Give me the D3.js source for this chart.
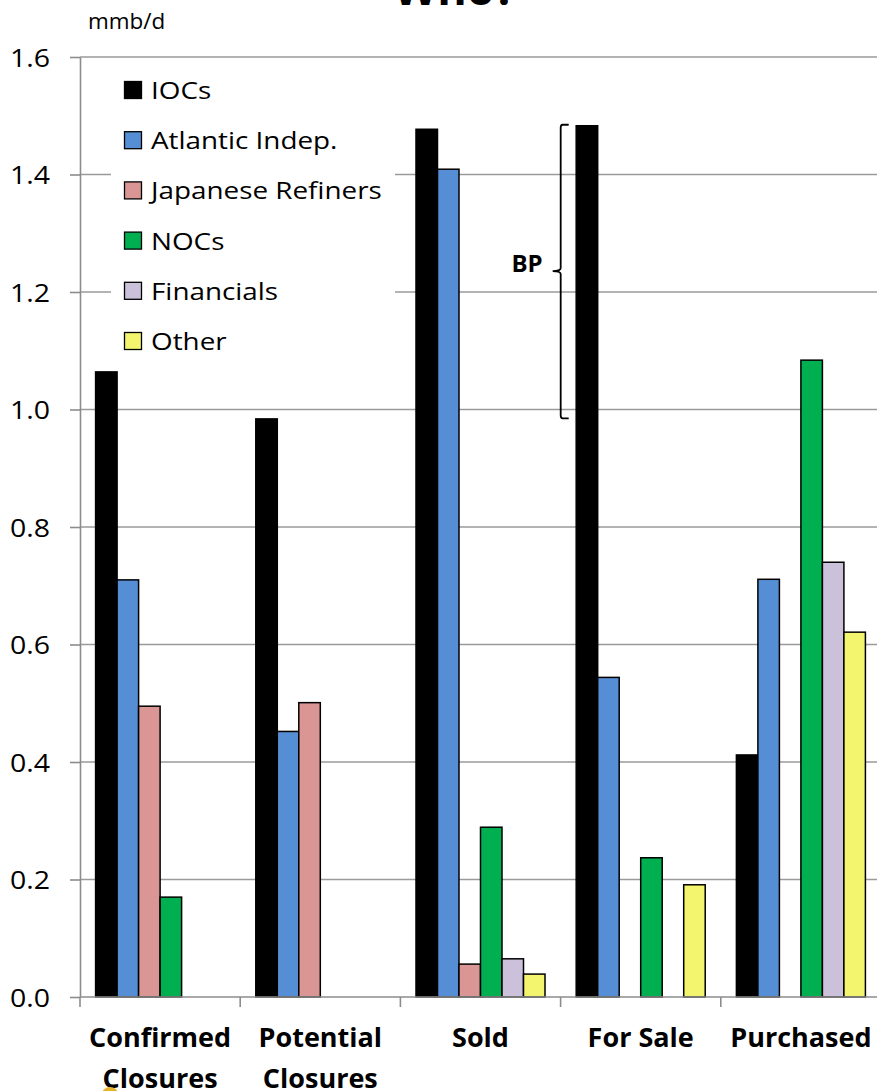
<!DOCTYPE html>
<html>
<head>
<meta charset="utf-8">
<script src="https://cdn.jsdelivr.net/npm/d3@7"></script>
<style>
  html, body { margin: 0; padding: 0; background: #fff; }
  svg { display: block; font-family: "Open Sans", "Noto Sans", sans-serif; }
</style>
</head>
<body>
<svg id="chart" width="877" height="1091"></svg>
<script>
// Refinery ownership changes, million barrels per day
const categories = ["Confirmed Closures", "Potential Closures", "Sold", "For Sale", "Purchased"];
const seriesNames = ["IOCs", "Atlantic Indep.", "Japanese Refiners", "NOCs", "Financials", "Other"];
const seriesColors = ["#000000", "#558ed5", "#d99694", "#00b050", "#ccc1da", "#f3f56f"];

const iocs       = [1.064, 0.984, 1.477, 1.483, 0.412];
const atlantic   = [0.710, 0.452, 1.409, 0.544, 0.711];
const japanese   = [0.495, 0.501, 0.056, 0,     0];
const nocs       = [0.170, 0,     0.289, 0.237, 1.084];
const financials = [0,     0,     0.065, 0,     0.740];
const other      = [0,     0,     0.039, 0.191, 0.621];
const seriesValues = [iocs, atlantic, japanese, nocs, financials, other];

const yTicks = [0, 0.2, 0.4, 0.6, 0.8, 1.0, 1.2, 1.4, 1.6];
// BP share of the "For Sale" IOC volume
const bpRange = [0.985, 1.483];

const svg = d3.select("#chart");
const FONT = "'Open Sans', sans-serif";

const x0 = d3.scaleBand().domain(categories).range([80, 881]).paddingInner(0).paddingOuter(0);
const x1 = d3.scaleBand().domain(seriesNames).range([0, x0.bandwidth()]).paddingInner(0).paddingOuter(0.725);
const y = d3.scaleLinear().domain([0, 1.6]).range([997, 57]);

// gridlines
svg.append("g")
  .selectAll("line")
  .data(yTicks.filter(d => d > 0))
  .join("line")
  .attr("x1", 80).attr("x2", 877)
  .attr("y1", d => y(d)).attr("y2", d => y(d))
  .attr("stroke", "#9a9a9a").attr("stroke-width", 1.6);

// y axis
const yAxis = svg.append("g")
  .attr("transform", "translate(80,0)")
  .call(d3.axisLeft(y).tickValues(yTicks).tickFormat(d3.format(".1f")).tickSize(10).tickSizeOuter(0));
yAxis.select(".domain").attr("stroke", "#8c8c8c").attr("stroke-width", 1.6);
yAxis.selectAll(".tick line").attr("stroke", "#8c8c8c").attr("stroke-width", 1.6);
yAxis.selectAll(".tick text")
  .attr("x", 0)
  .attr("dy", "0.36em")
  .attr("transform", "translate(-30,0) scale(1.14,1)")
  .attr("font-size", 25)
  .attr("font-family", FONT)
  .attr("fill", "#000");

// legend background (covers the gridlines behind it)
const legend = svg.append("g");
legend.append("rect")
  .attr("x", 111).attr("y", 66).attr("width", 284).attr("height", 292)
  .attr("fill", "#fff");

// bars
const groups = svg.append("g")
  .selectAll("g")
  .data(categories)
  .join("g")
  .attr("transform", d => `translate(${x0(d)},0)`);

groups.selectAll("rect")
  .data((c, ci) => seriesNames.map((s, si) => ({ s, si, v: seriesValues[si][ci] })).filter(d => d.v > 0))
  .join("rect")
  .attr("x", d => x1(d.s))
  .attr("width", x1.bandwidth())
  .attr("y", d => y(d.v))
  .attr("height", d => y(0) - y(d.v))
  .attr("fill", d => seriesColors[d.si])
  .attr("stroke", "#000")
  .attr("stroke-width", 1.5);

// x axis
const xAxisG = svg.append("g");
xAxisG.append("line")
  .attr("x1", 80).attr("x2", 881).attr("y1", y(0)).attr("y2", y(0))
  .attr("stroke", "#8c8c8c").attr("stroke-width", 1.6);
xAxisG.selectAll("line.tk")
  .data(categories.map(c => x0(c)).concat([x0.range()[1]]))
  .join("line")
  .attr("class", "tk")
  .attr("x1", d => d).attr("x2", d => d)
  .attr("y1", y(0)).attr("y2", y(0) + 10)
  .attr("stroke", "#8c8c8c").attr("stroke-width", 1.6);

const catText = svg.append("g")
  .selectAll("text")
  .data(categories)
  .join("text")
  .attr("text-anchor", "middle")
  .attr("font-weight", "bold")
  .attr("font-size", 27)
  .attr("font-family", FONT)
  .attr("fill", "#000");
catText.each(function (d) {
  const words = d.split(" ");
  const lines = words.length > 1 && d !== "For Sale" ? words : [d];
  const cx = x0(d) + x0.bandwidth() / 2;
  d3.select(this).selectAll("tspan")
    .data(lines)
    .join("tspan")
    .attr("x", cx)
    .attr("y", (l, i) => 1047 + i * 41)
    .text(l => l);
});

// legend entries
const legendItems = legend.selectAll("g.item")
  .data(seriesNames)
  .join("g")
  .attr("class", "item")
  .attr("transform", (d, i) => `translate(124,${90 + i * 50.2})`);
legendItems.append("rect")
  .attr("x", 0.5).attr("y", -8.5).attr("width", 17).attr("height", 17)
  .attr("fill", (d, i) => seriesColors[i])
  .attr("stroke", "#000").attr("stroke-width", 1.3);
legendItems.append("text")
  .attr("transform", "translate(27,9) scale(1.16,1)")
  .attr("font-size", 24)
  .attr("font-family", FONT)
  .attr("fill", "#000")
  .text(d => d);

// BP bracket beside the For Sale IOC bar
const bx = x0("For Sale") + x1("IOCs") - 15.5;
const yTop = y(bpRange[1]) - 1;
const yBot = y(bpRange[0]);
const yMid = (yTop + yBot) / 2 - 0.5;
const brace = d3.path();
brace.moveTo(bx + 8, yTop);
brace.lineTo(bx + 2, yTop);
brace.quadraticCurveTo(bx, yTop, bx, yTop + 3);
brace.lineTo(bx, yMid - 3);
brace.quadraticCurveTo(bx, yMid, bx - 8, yMid);
brace.quadraticCurveTo(bx, yMid, bx, yMid + 3);
brace.lineTo(bx, yBot - 3);
brace.quadraticCurveTo(bx, yBot, bx + 2, yBot);
brace.lineTo(bx + 8, yBot);
svg.append("path")
  .attr("d", brace.toString())
  .attr("fill", "none")
  .attr("stroke", "#000")
  .attr("stroke-width", 1.8);
svg.append("text")
  .attr("x", bx - 18).attr("y", yMid + 1)
  .attr("text-anchor", "end")
  .attr("font-weight", "bold")
  .attr("font-size", 24)
  .attr("font-family", FONT)
  .text("BP");

// unit label
svg.append("text")
  .attr("transform", "translate(88,29) scale(1.07,1)")
  .attr("font-size", 21)
  .attr("font-family", FONT)
  .text("mmb/d");

// title (runs off the top edge)
svg.append("text")
  .attr("x", 455).attr("y", 5)
  .attr("text-anchor", "middle")
  .attr("font-weight", "bold")
  .attr("font-size", 45)
  .attr("font-family", FONT)
  .text("Who?");

// corner of a logo peeking in at the bottom
svg.append("ellipse")
  .attr("cx", 110).attr("cy", 1094).attr("rx", 8).attr("ry", 7)
  .attr("fill", "#e7b42a");
</script>
</body>
</html>
